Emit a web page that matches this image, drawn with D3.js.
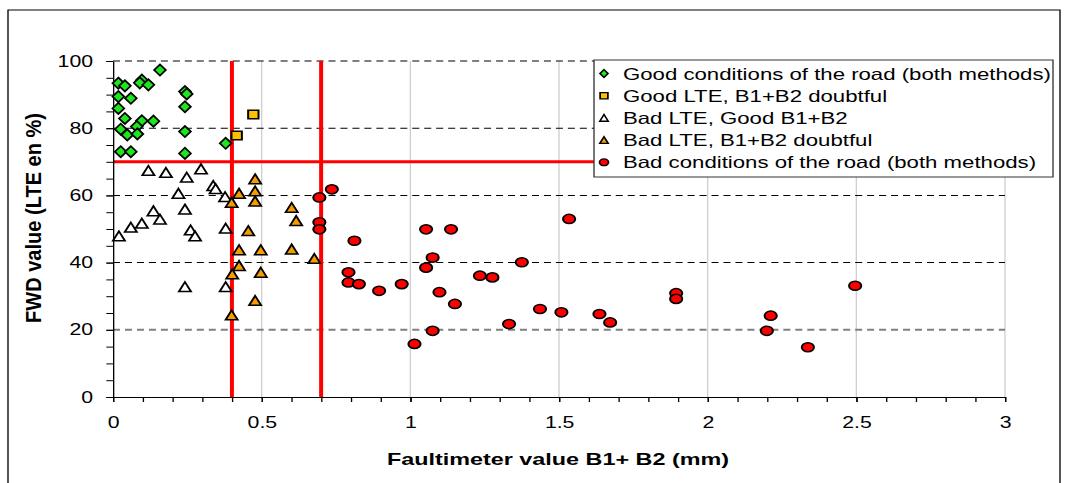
<!DOCTYPE html>
<html>
<head>
<meta charset="utf-8">
<script src="https://cdn.jsdelivr.net/npm/d3@7"></script>
<style>
  body { margin: 0; background: #fff; }
  svg { display: block; font-family: "Liberation Sans", Arial, sans-serif; }
</style>
</head>
<body>
<div id="chart"></div>
<script>
// data: [faultimeter B1+B2 (mm), FWD LTE (%)]
let goodBoth = [
  [0.018, 93.4], [0.040, 92.6], [0.018, 89.4], [0.060, 88.9], [0.018, 85.9],
  [0.040, 82.9], [0.097, 94.3], [0.090, 93.5], [0.119, 92.9], [0.158, 97.3],
  [0.242, 90.9], [0.248, 90.2], [0.242, 86.4], [0.097, 82.2], [0.136, 82.1],
  [0.080, 80.5], [0.026, 79.7], [0.048, 78.0], [0.082, 78.3], [0.242, 79.0],
  [0.026, 73.0], [0.060, 73.0], [0.242, 72.5], [0.379, 75.5]
];
let goodLteDoubt = [[0.472, 84.1], [0.416, 77.8]];
let badLteGood = [
  [0.119, 67.4], [0.178, 66.8], [0.248, 65.4], [0.296, 67.9], [0.337, 62.9],
  [0.345, 62.0], [0.220, 60.6], [0.377, 59.6], [0.136, 55.4], [0.158, 52.9],
  [0.242, 55.9], [0.020, 47.9], [0.060, 50.5], [0.097, 51.7], [0.261, 49.7],
  [0.276, 47.9], [0.379, 50.2], [0.242, 32.8], [0.379, 32.8]
];
let badLteDoubt = [
  [0.478, 64.9], [0.478, 61.3], [0.424, 60.6], [0.399, 57.9], [0.478, 58.3],
  [0.601, 56.4], [0.616, 52.5], [0.455, 49.5], [0.424, 43.8], [0.497, 43.8],
  [0.601, 44.0], [0.677, 41.2], [0.424, 39.1], [0.401, 36.6], [0.497, 37.1],
  [0.478, 28.7], [0.399, 24.4]
];
let badBoth = [
  [0.736, 61.8], [0.694, 59.4], [0.694, 52.0], [0.694, 49.9], [0.812, 46.5],
  [1.053, 49.9], [1.137, 49.9], [1.075, 41.5], [1.053, 38.5], [0.792, 37.1],
  [0.792, 34.1], [0.827, 33.6], [0.895, 31.6], [0.971, 33.6], [1.098, 31.2],
  [1.150, 27.7], [1.234, 36.1], [1.276, 35.6], [1.375, 40.1], [1.436, 26.2],
  [1.332, 21.7], [1.075, 19.7], [1.014, 15.8], [1.508, 25.2], [1.534, 53.0],
  [1.636, 24.7], [1.672, 22.2], [1.894, 30.9], [1.894, 29.2], [2.212, 24.2],
  [2.199, 19.7], [2.337, 14.8], [2.496, 33.1]
];

let xTicks = [0, 0.5, 1, 1.5, 2, 2.5, 3];
let yTicks = [0, 20, 40, 60, 80, 100];
let xLimits = [0.4, 0.7];   // red vertical thresholds
let yLimit = 70;            // red horizontal threshold

let legendLabels = [
  "Good conditions of the road (both methods)",
  "Good LTE, B1+B2 doubtful",
  "Bad LTE, Good B1+B2",
  "Bad LTE, B1+B2 doubtful",
  "Bad conditions of the road (both methods)"
];

// the whole picture is horizontally stretched, so draw in a narrower space and scale it
let stretch = 1.33;
let svgWidth = 1068;
let svgHeight = 483;

let svg = d3.select("#chart")
  .append("svg")
  .attr("width", svgWidth)
  .attr("height", svgHeight);

let g = svg.append("g").attr("transform", `scale(${stretch}, 1)`);

let xScale = d3.scaleLinear().domain([0, 3]).range([113 / stretch, 1005 / stretch]);
let yScale = d3.scaleLinear().domain([0, 100]).range([397, 61]);

// outer frame
g.append("rect")
  .attr("x", 8 / stretch).attr("y", 10)
  .attr("width", (1060 - 8) / stretch).attr("height", 500)
  .attr("fill", "none").attr("stroke", "#000").attr("stroke-width", 1);

// vertical grid
g.append("g").selectAll("line")
  .data(xTicks.slice(1))
  .enter().append("line")
  .attr("x1", d => xScale(d)).attr("x2", d => xScale(d))
  .attr("y1", yScale(100)).attr("y2", yScale(0))
  .attr("stroke", "#cfcfcf").attr("stroke-width", 1);

// horizontal dashed grid
g.append("g").selectAll("line")
  .data(yTicks.slice(1))
  .enter().append("line")
  .attr("x1", xScale(0)).attr("x2", xScale(3))
  .attr("y1", d => yScale(d)).attr("y2", d => yScale(d))
  .attr("stroke", d => d === 20 ? "#808080" : "#000")
  .attr("stroke-width", d => d === 20 ? 2 : 1)
  .attr("stroke-dasharray", "5.3,3.7");

// red threshold lines
g.append("line")
  .attr("x1", xScale(0)).attr("x2", xScale(3))
  .attr("y1", yScale(yLimit)).attr("y2", yScale(yLimit))
  .attr("stroke", "#ff0000").attr("stroke-width", 3);

g.append("g").selectAll("line")
  .data(xLimits)
  .enter().append("line")
  .attr("x1", d => xScale(d)).attr("x2", d => xScale(d))
  .attr("y1", yScale(100)).attr("y2", yScale(0))
  .attr("stroke", "#ff0000").attr("stroke-width", 3);

// axes
function renderAxes() {
  let yMinor = g.append("g")
    .attr("transform", `translate(${xScale(0)}, 0)`)
    .call(d3.axisLeft(yScale).tickValues(d3.range(0, 101, 5)).tickFormat("").tickSize(5).tickSizeOuter(0));
  yMinor.select(".domain").remove();

  let xMinor = g.append("g")
    .attr("transform", `translate(0, ${yScale(0)})`)
    .call(d3.axisBottom(xScale).tickValues(d3.range(0, 31).map(i => i / 10)).tickFormat("").tickSize(5).tickSizeOuter(0));
  xMinor.select(".domain").remove();

  let yAxis = g.append("g")
    .attr("transform", `translate(${xScale(0)}, 0)`)
    .call(d3.axisLeft(yScale).tickValues(yTicks).tickSize(5).tickPadding(10).tickSizeOuter(0));

  let xAxis = g.append("g")
    .attr("transform", `translate(0, ${yScale(0)})`)
    .call(d3.axisBottom(xScale).tickValues(xTicks).tickFormat(d => String(d)).tickSize(5).tickPadding(15).tickSizeOuter(0));

  g.selectAll(".tick line").attr("stroke", "#000");
  g.selectAll(".domain").attr("stroke", "#000");
  [yAxis, xAxis].forEach(a => a.selectAll("text")
    .attr("font-size", 16)
    .attr("font-family", "Liberation Sans, Arial, sans-serif")
    .attr("fill", "#000"));
}
renderAxes();

// axis titles
g.append("text")
  .attr("transform", `translate(${36 / stretch + 4}, 218) rotate(-90)`)
  .attr("text-anchor", "middle")
  .attr("font-size", 16).attr("font-weight", "bold")
  .attr("textLength", 210).attr("lengthAdjust", "spacingAndGlyphs")
  .text("FWD value (LTE en %)");

g.append("text")
  .attr("x", 558 / stretch).attr("y", 465)
  .attr("text-anchor", "middle")
  .attr("font-size", 16).attr("font-weight", "bold")
  .attr("textLength", 342 / stretch).attr("lengthAdjust", "spacingAndGlyphs")
  .text("Faultimeter value B1+ B2 (mm)");

// marker shapes, narrowed so they look right after the stretch
let diamondShape = {
  draw(c, size) {
    let h = Math.sqrt(size) / 2, w = h / stretch * 1.05;
    c.moveTo(0, -h); c.lineTo(w, 0); c.lineTo(0, h); c.lineTo(-w, 0); c.closePath();
  }
};
let squareShape = {
  draw(c, size) {
    let h = Math.sqrt(size) / 2, w = h * 0.92;
    c.moveTo(-w, -h); c.lineTo(w, -h); c.lineTo(w, h); c.lineTo(-w, h); c.closePath();
  }
};
let triangleShape = {
  draw(c, size) {
    let h = Math.sqrt(size) / 2, w = h * 0.95;
    c.moveTo(0, -h); c.lineTo(w, h); c.lineTo(-w, h); c.closePath();
  }
};

let series = [
  { data: goodBoth, shape: diamondShape, size: 125, fill: "#1de61d", legendSize: 60 },
  { data: goodLteDoubt, shape: squareShape, size: 72, fill: "#ffc000", legendSize: 40 },
  { data: badLteGood, shape: triangleShape, size: 92, fill: "#ffffff", legendSize: 45 },
  { data: badLteDoubt, shape: triangleShape, size: 92, fill: "#f59d00", legendSize: 45 },
  { data: badBoth, shape: d3.symbolCircle, size: 66, fill: "#ff0000", legendSize: 36 }
];

series.forEach(s => {
  g.append("g").selectAll("path")
    .data(s.data)
    .enter().append("path")
    .attr("d", d3.symbol().type(s.shape).size(s.size))
    .attr("transform", d => `translate(${xScale(d[0])}, ${yScale(d[1])})`)
    .attr("fill", s.fill)
    .attr("stroke", "#000")
    .attr("stroke-width", 1.5);
});

// legend
let legend = g.append("g");
legend.append("rect")
  .attr("x", 594 / stretch).attr("y", 60)
  .attr("width", (1053 - 594) / stretch).attr("height", 117)
  .attr("fill", "#fff").attr("stroke", "#333").attr("stroke-width", 1);

let legendRows = legend.selectAll(".row")
  .data(series)
  .enter().append("g")
  .attr("transform", (d, i) => `translate(${604 / stretch}, ${73.5 + i * 22.2})`);

legendRows.append("path")
  .attr("d", d => d3.symbol().type(d.shape).size(d.legendSize)())
  .attr("fill", d => d.fill)
  .attr("stroke", "#000")
  .attr("stroke-width", 1.3);

legendRows.append("text")
  .attr("x", (623 - 604) / stretch)
  .attr("y", 6)
  .attr("font-size", 16.7)
  .text((d, i) => legendLabels[i]);
</script>
</body>
</html>
